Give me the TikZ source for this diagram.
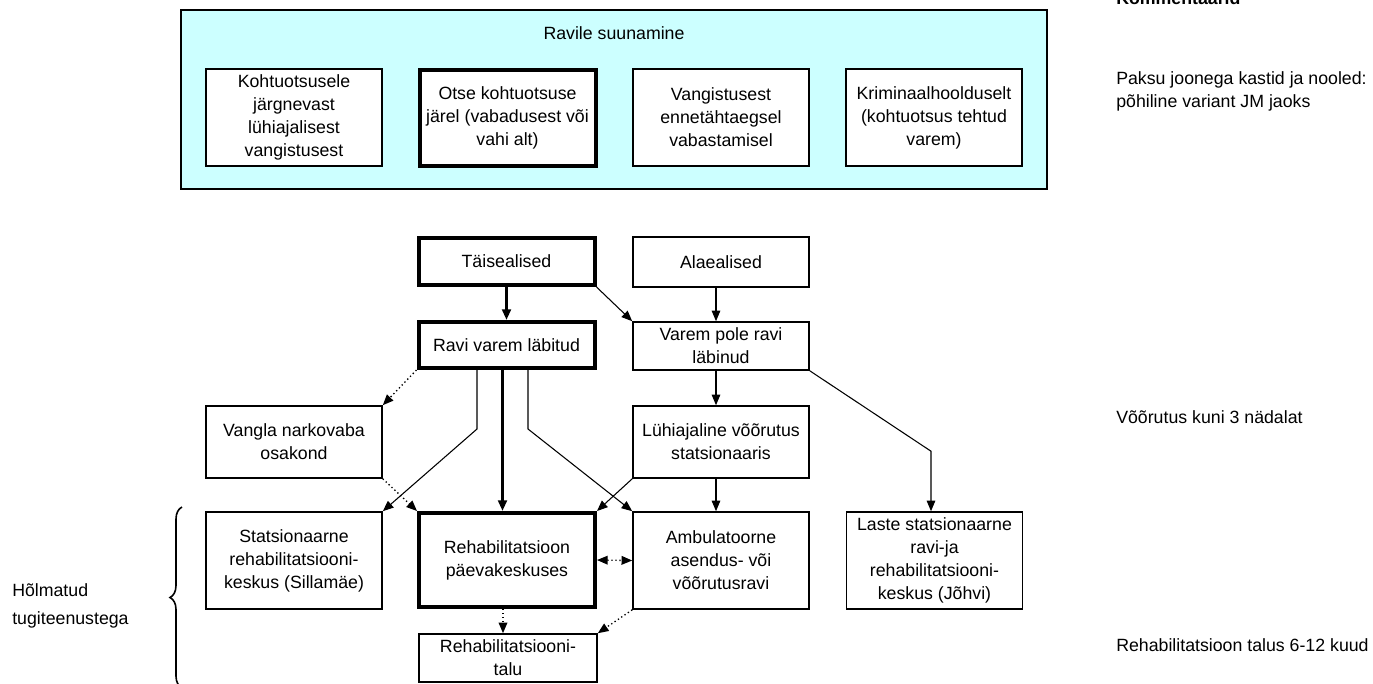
\documentclass[tikz,border=0pt]{standalone}
\usepackage{fontspec}
\setmainfont{Liberation Sans}
\usetikzlibrary{arrows.meta,calc,decorations.pathreplacing}
\definecolor{cyanfill}{HTML}{CCFFFF}
\begin{document}
\begin{tikzpicture}[x=0.75pt,y=-0.75pt,
  every node/.style={font=\fontsize{13.3pt}{17.25pt}\selectfont, text=black},
  box/.style={draw, line width=1.2pt, fill=white, minimum width=132pt, inner sep=0pt, align=center},
  thickbox/.style={box, line width=3pt},
  bh/.style={minimum height={#1*0.75pt}},
  arr/.style={-{Triangle[length=8pt,width=6.5pt]}, line width=0.8pt},
  thickarr/.style={-{Triangle[length=8pt,width=6.5pt]}, line width=2.2pt},
  dotarr/.style={-{Triangle[length=8pt,width=6.5pt]}, dotted, line width=1pt},
  dotdbl/.style={{Triangle[length=8pt,width=6.5pt]}-{Triangle[length=8pt,width=6.5pt]}, dotted, line width=1pt},
  note/.style={anchor=west, align=left, inner sep=0pt}]
\useasboundingbox (0,0) rectangle (1373,683);

% referral frame
\node[draw, line width=1.5pt, fill=cyanfill, minimum width={866*0.75pt}, minimum height={179*0.75pt}, inner sep=0pt] (frame) at (614,99.5) {};
\node (ftitle) at (614,33) {Ravile suunamine};
\node[box, bh=97] (b1) at (294,117.5) {Kohtuotsusele\\järgnevast\\lühiajalisest\\vangistusest};
\node[thickbox, bh=96] (b2) at (507.5,118) {Otse kohtuotsuse\\järel (vabadusest või\\vahi alt)};
\node[box, bh=97] (b3) at (721,117.5) {Vangistusest\\ennetähtaegsel\\vabastamisel};
\node[box, bh=97] (b4) at (934,117.5) {Kriminaalhoolduselt\\(kohtuotsus tehtud\\varem)};

% flow
\node[thickbox, bh=47] (tai) at (506.5,261.5) {Täisealised};
\node[box, bh=50] (ala) at (721,262) {Alaealised};
\node[thickbox, bh=46] (rvl) at (506.5,345) {Ravi varem läbitud};
\node[box, bh=48] (vpr) at (721,346) {Varem pole ravi\\läbinud};
\node[box, bh=72] (vno) at (294,442) {Vangla narkovaba\\osakond};
\node[box, bh=72] (lvs) at (721,442) {Lühiajaline võõrutus\\statsionaaris};
\node[box, bh=97] (srk) at (294,560.5) {Statsionaarne\\rehabilitatsiooni-\\keskus (Sillamäe)};
\node[thickbox, bh=94] (rpk) at (507,560) {Rehabilitatsioon\\päevakeskuses};
\node[box, bh=97] (amb) at (721,560.5) {Ambulatoorne\\asendus- või\\võõrutusravi};
\node[box, bh=97] (lsr) at (934.5,560.5) {Laste statsionaarne\\ravi-ja\\rehabilitatsiooni-\\keskus (Jõhvi)};
\node[box, bh=48, minimum width={178*0.75pt}] (rtl) at (508,658) {Rehabilitatsiooni-\\talu};

% connectors
\draw[thickarr] (tai.south) -- (rvl.north);
\draw[arr] (tai.south east) -- (vpr.north west);
\draw[arr] ($(ala.south)+(-5,0)$) -- ($(vpr.north)+(-5,0)$);
\draw[arr] ($(vpr.south)+(-5,0)$) -- ($(lvs.north)+(-5,0)$);
\draw[arr] ($(lvs.south)+(-5,0)$) -- ($(amb.north)+(-5,0)$);
\draw[arr] (vpr.south east) -- ($(lsr.north)+(-3.5,-60)$) -- ($(lsr.north)+(-3.5,0)$);
\draw[dotarr] (rvl.south west) -- (vno.north east);
\draw[arr] ($(rvl.south)+(-29.5,0)$) -- ++(0,59) -- (srk.north east);
\draw[thickarr] ($(rvl.south)+(-4,0)$) -- ($(rpk.north)+(-4.5,0)$);
\draw[arr] ($(rvl.south)+(21.5,0)$) -- ++(0,59) -- (amb.north west);
\draw[dotarr] (vno.south east) -- (rpk.north west);
\draw[arr] (lvs.south west) -- (rpk.north east);
\draw[dotdbl] (rpk.east) -- (amb.west);
\draw[dotarr] ($(rpk.south)+(-4,0)$) -- ($(rtl.north)+(-5,0)$);
\draw[dotarr] (amb.south west) -- (rtl.north east);

% brace and side texts
\draw[line width=1.2pt, decorate, decoration={brace, amplitude=9pt}] (182,688) -- (182,507) coordinate (bracetop);
\node[note, font=\fontsize{13.3pt}{21pt}\selectfont] (holm) at (12,606) {Hõlmatud\\tugiteenustega};
\node[anchor=base west, inner sep=0pt, font=\fontsize{13.3pt}{17.25pt}\selectfont\bfseries] (komm) at (1116,4) {Kommentaarid};
\node[note] (paksu) at (1116,91.5) {Paksu joonega kastid ja nooled:\\põhiline variant JM jaoks};
\node[note] (voor) at (1116,417) {Võõrutus kuni 3 nädalat};
\node[note] (rtalus) at (1116,645) {Rehabilitatsioon talus 6-12 kuud};
\end{tikzpicture}
\end{document}
